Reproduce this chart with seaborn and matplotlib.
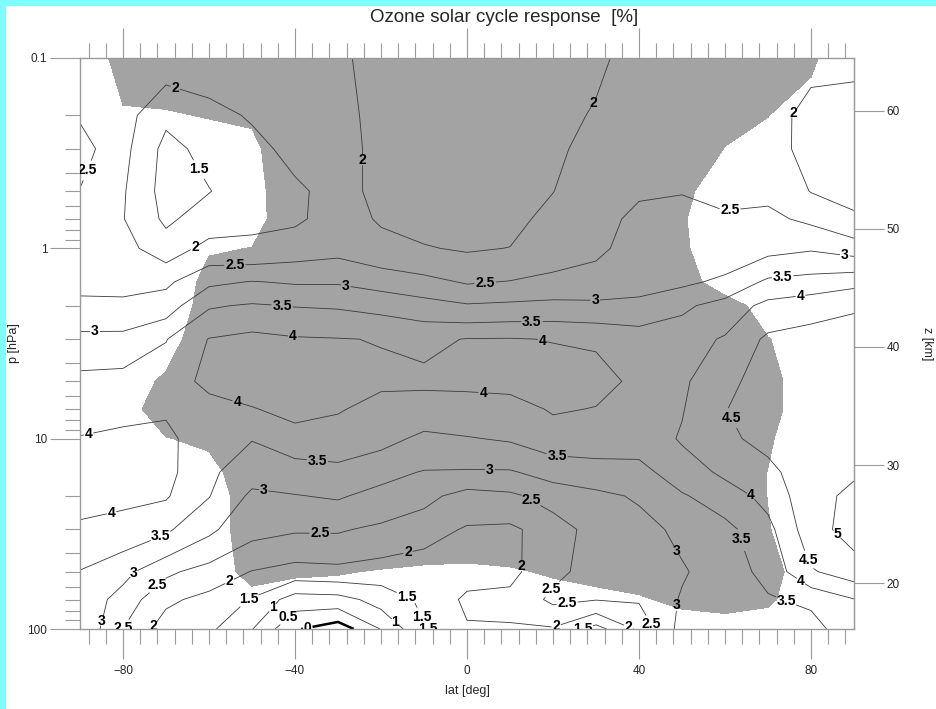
import numpy as np
import seaborn as sns
import matplotlib
matplotlib.use('Agg')
import matplotlib.pyplot as plt
from matplotlib.patches import Rectangle
from matplotlib.ticker import (FixedLocator, MultipleLocator, LogLocator, NullLocator,
                               NullFormatter, FormatStrFormatter)

# latitude grid [deg] and pressure levels [hPa]
lats = [-90, -80, -70, -60, -50, -40, -30, -20, -10, 0, 10, 20, 30, 40, 50, 60, 70, 80, 90]
plevs = [0.1, 0.2, 0.3, 0.5, 0.7, 1, 1.5, 2, 3, 5, 7, 10, 15, 20, 30, 50, 70, 100]

# ozone solar cycle response [%], one row per pressure level
resp = [
    [2.3, 2.25, 2.25, 2.25, 2.3, 2.3, 2.05, 1.9, 1.85, 1.8, 1.8, 1.85, 1.95, 2.1, 2.15, 2.15, 2.2, 2.15, 2.05],
    [2.45, 2.2, 1.6, 1.85, 2.05, 2.25, 2.15, 1.85, 1.8, 1.75, 1.8, 1.9, 2.03, 2.2, 2.25, 2.2, 2.25, 1.8, 1.9],
    [2.7, 2.15, 1.35, 1.65, 1.85, 2.15, 2.2, 1.85, 1.8, 1.75, 1.8, 1.93, 2.12, 2.25, 2.3, 2.3, 2.3, 1.75, 1.85],
    [2.48, 2.05, 1.3, 1.48, 1.8, 1.9, 2.2, 1.85, 1.8, 1.75, 1.8, 1.99, 2.3, 2.45, 2.48, 2.4, 2.4, 1.98, 1.9],
    [2.3, 2.02, 1.4, 1.75, 1.9, 1.92, 2.2, 1.95, 1.85, 1.8, 1.85, 2.15, 2.35, 2.6, 2.65, 2.55, 2.6, 2.4, 2.05],
    [2.25, 2.15, 1.75, 2.15, 2.1, 2.25, 2.35, 2.15, 2.03, 1.95, 2.01, 2.3, 2.4, 2.7, 2.75, 2.7, 2.85, 2.95, 2.78],
    [2.4, 2.35, 2.4, 2.9, 3.02, 2.95, 2.95, 2.8, 2.65, 2.45, 2.52, 2.6, 2.7, 2.85, 2.9, 3.1, 3.6, 3.7, 3.85],
    [2.58, 2.6, 2.75, 3.45, 3.55, 3.48, 3.45, 3.35, 3.2, 3.05, 3.1, 3.15, 3.1, 3.1, 3.4, 3.7, 4.15, 4.3, 4.45],
    [3.15, 3.15, 3.48, 4.02, 4.15, 4.05, 4.02, 3.98, 3.9, 4.02, 4.03, 3.98, 3.95, 3.8, 3.8, 4.05, 4.6, 4.7, 4.7],
    [3.65, 3.7, 3.8, 4.1, 4.25, 4.3, 4.3, 4.1, 4.1, 4.1, 4.15, 4.25, 4.15, 3.9, 3.92, 4.35, 4.75, 4.85, 4.8],
    [3.85, 3.9, 3.95, 3.85, 3.97, 4.15, 4.05, 3.8, 3.75, 3.8, 3.8, 4.05, 3.98, 3.85, 3.97, 4.48, 4.8, 4.9, 4.85],
    [4.02, 4.08, 4.1, 3.75, 3.52, 3.8, 3.7, 3.65, 3.4, 3.47, 3.55, 3.75, 3.8, 3.7, 4.05, 4.4, 4.65, 4.9, 4.9],
    [4.2, 4.2, 4.15, 3.6, 3.2, 3.25, 3.4, 3.15, 2.97, 2.95, 2.95, 3.2, 3.25, 3.35, 3.75, 4.1, 4.35, 4.85, 4.95],
    [4.2, 4.12, 4.05, 3.52, 2.9, 2.98, 3.05, 2.85, 2.65, 2.3, 2.4, 2.7, 2.9, 3.05, 3.45, 3.75, 4.15, 4.85, 5.1],
    [3.9, 3.8, 3.58, 3.1, 2.65, 2.55, 2.55, 2.4, 2.2, 1.95, 1.9, 2.25, 2.7, 2.85, 3.1, 3.35, 3.85, 4.8, 5.2],
    [3.48, 3.15, 2.6, 2.3, 1.98, 1.8, 1.85, 1.75, 1.7, 1.8, 1.85, 2.4, 2.65, 2.8, 2.95, 3.25, 3.65, 4.45, 4.75],
    [3.35, 2.8, 2.1, 1.85, 1.45, 0.75, 0.8, 1.2, 1.6, 2.1, 2.15, 2.6, 2.52, 2.55, 3.05, 3.2, 3.45, 3.6, 3.98],
    [3.45, 2.48, 1.75, 1.6, 1.02, 0.05, -0.3, 0.52, 1.45, 1.95, 1.95, 1.95, 1.3, 2.1, 3.2, 3.2, 3.35, 3.3, 3.85],
]

# significance (ratio to threshold, >1 = shaded), same layout as resp
signif = [
    [0, 1.5, 1.5, 1.5, 1.6, 2, 2, 2, 2, 2, 2, 2, 2, 2, 2, 1.6, 1.5, 1.2, 0],
    [0, 0.85, 0.92, 1.05, 1.15, 2, 2, 2, 2, 2, 2, 2, 2, 2, 2, 1.3, 1.02, 0.43, 0],
    [0, 0.5, 0.3, 0.5, 0.72, 2, 2, 2, 2, 2, 2, 2, 2, 2, 1.8, 0.97, 0.6, 0.2, 0],
    [0, 0, 0, 0.2, 0.5, 2, 2, 2, 2, 2, 2, 2, 2, 2, 1.17, 0.6, 0.3, 0.1, 0],
    [0, 0, 0, 0.3, 0.45, 2, 2, 2, 2, 2, 2, 2, 2, 2, 1.08, 0.4, 0.2, 0.1, 0],
    [0, 0, 0, 0.9, 1.02, 2, 2, 2, 2, 2, 2, 2, 2, 2, 1.16, 0.3, 0.2, 0.1, 0],
    [0, 0, 0, 1.4, 1.4, 2, 2, 2, 2, 2, 2, 2, 2, 2, 1.6, 0.3, 0.3, 0.1, 0],
    [0, 0, 0, 1.6, 1.7, 2, 2, 2, 2, 2, 2, 2, 2, 2, 2, 1.6, 0.4, 0.2, 0],
    [0, 0, 0.5, 1.8, 1.9, 2, 2, 2, 2, 2, 2, 2, 2, 2, 2, 1.8, 1.05, 0.3, 0],
    [0, 0.4, 1.2, 1.8, 2, 2, 2, 2, 2, 2, 2, 2, 2, 2, 2, 1.8, 1.3, 0.44, 0],
    [0, 0.6, 1.5, 1.6, 2, 2, 2, 2, 2, 2, 2, 2, 2, 2, 2, 1.8, 1.3, 0.44, 0],
    [0, 0.4, 0.96, 1.2, 1.9, 2, 2, 2, 2, 2, 2, 2, 2, 2, 2, 1.8, 1.1, 0.4, 0],
    [0, 0, 0.4, 0.6, 1.8, 2, 2, 2, 2, 2, 2, 2, 2, 2, 2, 1.8, 0.98, 0.3, 0],
    [0, 0, 0, 0.3, 1.7, 2, 2, 2, 2, 2, 2, 2, 2, 2, 2, 1.7, 0.98, 0.3, 0],
    [0, 0, 0, 0.2, 1.8, 1.8, 1.8, 1.6, 1.6, 1.6, 1.6, 1.8, 1.8, 1.8, 1.8, 1.7, 1.05, 0.3, 0],
    [0, 0, 0, 0.5, 1.3, 1.1, 1.05, 0.95, 0.85, 0.8, 0.9, 1.1, 1.25, 1.4, 1.6, 1.6, 1.3, 0.5, 0],
    [0, 0, 0, 0.1, 0.67, 0.6, 0.6, 0.5, 0.4, 0.4, 0.4, 0.6, 0.75, 0.9, 1.2, 1.3, 1.15, 0.4, 0],
    [0, 0, 0, 0, 0.3, 0.3, 0.3, 0.2, 0.2, 0.2, 0.2, 0.2, 0.2, 0.3, 0.5, 0.6, 0.5, 0.2, 0],
]

levels = [0, 0.5, 1, 1.5, 2, 2.5, 3, 3.5, 4, 4.5, 5]
lat_ticks = [-80, -40, 0, 40, 80]
p_ticks = [0.1, 1, 10, 100]
z_ticks = [20, 30, 40, 50, 60]

# where the contour labels sit (lat, p)
label_spots = [
    (-67.9, 0.144), (-62.8, 0.388), (-86.5, 0.402), (-64.0, 0.927), (-54.0, 1.19),
    (-28.1, 1.54), (-43.0, 2.03), (-86.5, 2.79), (-40.5, 2.92), (-25.1, 0.343),
    (29.3, 0.172), (74.4, 0.183), (61.2, 0.652), (4.2, 1.50), (29.8, 1.87),
    (87.9, 1.08), (15.1, 2.38), (73.3, 1.33), (17.7, 2.96), (77.4, 1.66),
    (-53.5, 6.5), (3.7, 6.04), (-87.7, 10.2), (60.5, 7.98), (-34.9, 13.8),
    (5.3, 13.9), (20.9, 12.6), (-47.0, 17.1), (15.3, 20.3), (66.3, 19.5),
    (-82.6, 24.9), (-71.4, 31.8), (-34.2, 31.3), (-14.4, 33.3), (64.7, 33.3),
    (83.7, 35.8), (51.2, 36.2), (-77.9, 50.0), (-72.6, 56.7), (-55.6, 54.0),
    (13.0, 46.8), (17.7, 56.8), (-12.8, 58.2), (79.0, 43.5), (76.7, 60.3),
    (74.0, 73.1), (51.9, 76.7), (-50.9, 68.8), (-45.3, 76.7), (-41.6, 86.6),
    (-37.2, 94.2), (-16.7, 92.0), (-7.9, 80.6), (23.5, 81.6), (-83.7, 92.0),
    (-80.2, 97.8), (-73.7, 93.0), (-7.9, 98.9), (20.9, 98.9), (26.3, 97.8),
    (37.4, 99.5), (41.4, 98.9),
]

sns.set_style('ticks')
plt.rcParams['font.family'] = ['Liberation Sans', 'DejaVu Sans']

grey = '#9a9a9a'
lat_arr = np.array(lats)
p_arr = np.array(plevs)
Z = np.array(resp)
S = np.array(signif)

fig, ax = plt.subplots(figsize=(9.36, 7.09), dpi=100)
fig.subplots_adjust(left=80 / 936, right=854 / 936, bottom=1 - 629 / 709, top=1 - 58 / 709)

# cyan frame strips of the screenshot
fig.add_artist(Rectangle((0, 0), 5 / 936, 1, transform=fig.transFigure, color='#80ffff', zorder=-5))
fig.add_artist(Rectangle((0, 1 - 5 / 709), 1, 5 / 709, transform=fig.transFigure, color='#80ffff', zorder=-5))

ax.set_yscale('log')
ax.set_xlim(-90, 90)
ax.set_ylim(100, 0.1)

# shaded = significant
ax.contourf(lat_arr, p_arr, S, levels=[1, 10], colors=['#a3a3a3'], zorder=1)

cs = ax.contour(lat_arr, p_arr, Z, levels=levels,
                colors=['black' if l == 0 else '#3a3a3a' for l in levels],
                linewidths=[1.8 if l == 0 else 0.6 for l in levels], zorder=2)
with plt.rc_context({'font.weight': 'bold'}):
    texts = ax.clabel(cs, levels=levels, fmt='%g', inline=True, inline_spacing=1,
                      fontsize=10, colors='black', manual=label_spots)
for t in texts:
    t.set_rotation(0)

# axes and ticks
for s in ax.spines.values():
    s.set_color(grey)
    s.set_linewidth(1)

ax.xaxis.set_major_locator(FixedLocator(lat_ticks))
ax.xaxis.set_minor_locator(MultipleLocator(4))
ax.yaxis.set_major_locator(FixedLocator(p_ticks))
ax.yaxis.set_major_formatter(FormatStrFormatter('%g'))
ax.yaxis.set_minor_locator(LogLocator(base=10, subs=[2, 3, 4, 5, 6, 7, 8, 9]))
ax.yaxis.set_minor_formatter(NullFormatter())

ax.tick_params(axis='x', which='both', direction='out', top=True, bottom=True,
               labeltop=False, color=grey, width=0.8)
ax.tick_params(axis='x', which='major', length=21.6, pad=4, labelsize=8.5)
ax.tick_params(axis='x', which='minor', length=10.8)
ax.tick_params(axis='y', which='both', direction='out', left=True, right=False,
               color=grey, width=0.8)
ax.tick_params(axis='y', which='major', length=21.6, pad=2, labelsize=8.5)
ax.tick_params(axis='y', which='minor', length=11)

ax.set_xlabel('lat [deg]', fontsize=9, labelpad=6)
ax.set_ylabel('p [hPa]', fontsize=9, labelpad=5)


def p2z(p):
    return 7.0 * np.log(1000.0 / np.clip(p, 1e-6, None))


def z2p(z):
    return 1000.0 * np.exp(-np.asarray(z) / 7.0)


sec = ax.secondary_yaxis('right', functions=(p2z, z2p))
sec.yaxis.set_major_locator(FixedLocator(z_ticks))
sec.yaxis.set_major_formatter(FormatStrFormatter('%g'))
sec.yaxis.set_minor_locator(NullLocator())
sec.tick_params(which='major', direction='out', length=21.6, width=0.8, color=grey,
                labelsize=8.5, pad=2)
for s in sec.spines.values():
    s.set_color(grey)
sec.set_ylabel('z [km]', fontsize=9, rotation=270, labelpad=24)

fig.text(504 / 936, 1 - 18 / 709, 'Ozone solar cycle response  [%]',
         ha='center', va='center', fontsize=13.5)

fig.savefig('out.png', dpi=100, facecolor='white')
